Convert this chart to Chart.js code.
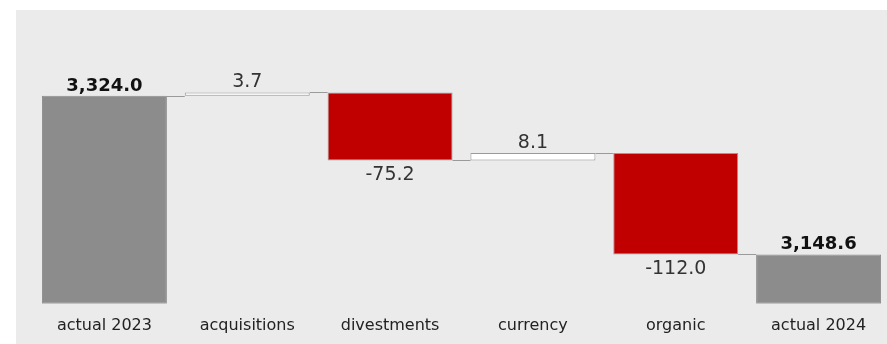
<!DOCTYPE html>
<html>
<head>
<meta charset="utf-8">
<script src="https://cdn.jsdelivr.net/npm/chart.js@4/dist/chart.umd.min.js"></script>
<style>
    html, body { margin: 0; padding: 0; background: #fff; overflow: hidden; width: 887px; height: 344px; }
    .panel { position: absolute; left: 16px; top: 10px; width: 880px; height: 340px; background: #ebebeb; }
    .wrap { position: absolute; left: 0; top: 0; width: 890px; height: 355px; }
</style>
</head>
<body>
<div class="panel"></div>
<div class="wrap"><canvas id="bridge"></canvas></div>
<script>
const categories = ['actual 2023', 'acquisitions', 'divestments', 'currency', 'organic', 'actual 2024'];
const values = [3324.0, 3.7, -75.2, 8.1, -112.0, 3148.6];
const isTotal = [true, false, false, false, false, true];
const yMin = 3094;
const yMax = 3400;

// floating bars: totals from the axis floor, deltas from the running level
let running = 0;
const ranges = values.map((v, i) => {
    if (isTotal[i]) { running = v; return [yMin, v]; }
    const start = running;
    running += v;
    return [start, running];
});
const levels = ranges.map(r => r[1]);

const fillColors = values.map((v, i) => isTotal[i] ? '#8c8c8c' : (v < 0 ? '#c00000' : '#ffffff'));
const edgeColors = values.map((v, i) => isTotal[i] ? '#8c8c8c' : '#9a9a9a');

const fmt = v => v.toLocaleString('en-US', { minimumFractionDigits: 1, maximumFractionDigits: 1 });

const bridgeExtras = {
    id: 'bridgeExtras',
    afterDatasetsDraw(chart) {
        const ctx = chart.ctx;
        const meta = chart.getDatasetMeta(0);
        const y = chart.scales.y;
        ctx.save();
        // connectors
        ctx.strokeStyle = '#9a9a9a';
        ctx.lineWidth = 1;
        for (let i = 0; i < meta.data.length - 1; i++) {
            const a = meta.data[i], b = meta.data[i + 1];
            const py = Math.round(y.getPixelForValue(levels[i])) + 0.5;
            ctx.beginPath();
            ctx.moveTo(a.x + a.width / 2, py);
            ctx.lineTo(b.x - b.width / 2, py);
            ctx.stroke();
        }
        // value labels
        ctx.textAlign = 'center';
        meta.data.forEach((bar, i) => {
            const v = values[i];
            const top = Math.min(bar.y, bar.base);
            const bottom = Math.max(bar.y, bar.base);
            if (isTotal[i]) {
                ctx.font = 'bold 18px "DejaVu Sans"';
                ctx.fillStyle = '#111';
            } else {
                ctx.font = '19px "DejaVu Sans"';
                ctx.fillStyle = '#333';
            }
            if (v >= 0) {
                ctx.textBaseline = 'alphabetic';
                ctx.fillText(fmt(v), bar.x, top - 5);
            } else {
                ctx.textBaseline = 'top';
                ctx.fillText(fmt(v), bar.x, bottom + 5);
            }
        });
        ctx.restore();
    }
};

new Chart(document.getElementById('bridge'), {
    type: 'bar',
    data: {
        labels: categories,
        datasets: [{
            data: ranges,
            backgroundColor: fillColors,
            borderColor: edgeColors,
            borderWidth: 1,
            borderSkipped: false,
            categoryPercentage: 1,
            barPercentage: 0.875
        }]
    },
    options: {
        responsive: true,
        maintainAspectRatio: false,
        animation: false,
        layout: { padding: { left: 33, right: 0, top: 27, bottom: 8 } },
        plugins: { legend: { display: false }, tooltip: { enabled: false } },
        scales: {
            x: {
                grid: { display: false, drawTicks: false },
                border: { display: false },
                ticks: { color: '#222', font: { family: 'DejaVu Sans', size: 16 }, padding: 12, maxRotation: 0 }
            },
            y: { display: false, min: yMin, max: yMax }
        }
    },
    plugins: [bridgeExtras]
});
</script>
</body>
</html>
